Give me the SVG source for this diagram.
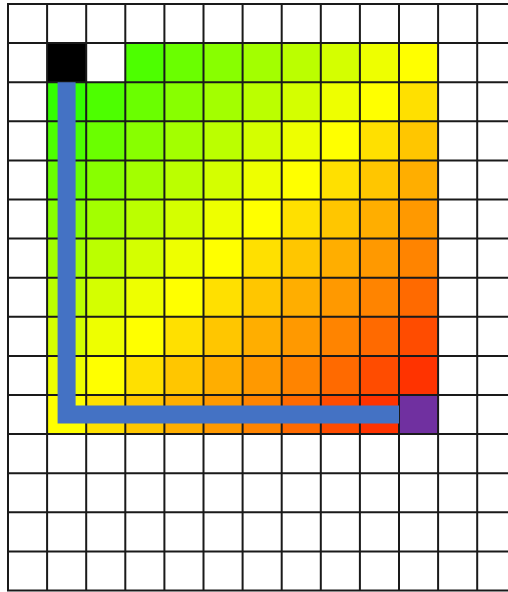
<svg xmlns="http://www.w3.org/2000/svg" width="508" height="592" viewBox="0 0 508 592">
<style>
.d1{fill:#33ff00}.d2{fill:#4dff00}.d3{fill:#6aff00}.d4{fill:#88ff00}.d5{fill:#a3ff00}.d6{fill:#bbff00}.d7{fill:#d4ff00}.d8{fill:#eeff00}.d9{fill:#ffff00}
.d10{fill:#ffe000}.d11{fill:#ffc600}.d12{fill:#ffae00}.d13{fill:#ff9900}.d14{fill:#ff8400}.d15{fill:#ff6a00}.d16{fill:#ff4c00}.d17{fill:#ff3300}
.start{fill:#000000}.goal{fill:#7030a0}
.grid{fill:none;stroke:#1a1a1a;stroke-width:2}
.route{fill:none;stroke:#4472c4;stroke-width:18;stroke-linejoin:miter;stroke-linecap:butt}
</style>
<rect width="508" height="592" fill="#ffffff"/>
<g id="cells" transform="translate(8,4) scale(39.1)">
<rect id="start" class="start" x="1" y="1" width="1" height="1"/>
<rect class="d2" x="3" y="1" width="1" height="1"/><rect class="d3" x="4" y="1" width="1" height="1"/><rect class="d4" x="5" y="1" width="1" height="1"/><rect class="d5" x="6" y="1" width="1" height="1"/><rect class="d6" x="7" y="1" width="1" height="1"/><rect class="d7" x="8" y="1" width="1" height="1"/><rect class="d8" x="9" y="1" width="1" height="1"/><rect class="d9" x="10" y="1" width="1" height="1"/>
<rect class="d1" x="1" y="2" width="1" height="1"/><rect class="d2" x="2" y="2" width="1" height="1"/><rect class="d3" x="3" y="2" width="1" height="1"/><rect class="d4" x="4" y="2" width="1" height="1"/><rect class="d5" x="5" y="2" width="1" height="1"/><rect class="d6" x="6" y="2" width="1" height="1"/><rect class="d7" x="7" y="2" width="1" height="1"/><rect class="d8" x="8" y="2" width="1" height="1"/><rect class="d9" x="9" y="2" width="1" height="1"/><rect class="d10" x="10" y="2" width="1" height="1"/>
<rect class="d2" x="1" y="3" width="1" height="1"/><rect class="d3" x="2" y="3" width="1" height="1"/><rect class="d4" x="3" y="3" width="1" height="1"/><rect class="d5" x="4" y="3" width="1" height="1"/><rect class="d6" x="5" y="3" width="1" height="1"/><rect class="d7" x="6" y="3" width="1" height="1"/><rect class="d8" x="7" y="3" width="1" height="1"/><rect class="d9" x="8" y="3" width="1" height="1"/><rect class="d10" x="9" y="3" width="1" height="1"/><rect class="d11" x="10" y="3" width="1" height="1"/>
<rect class="d3" x="1" y="4" width="1" height="1"/><rect class="d4" x="2" y="4" width="1" height="1"/><rect class="d5" x="3" y="4" width="1" height="1"/><rect class="d6" x="4" y="4" width="1" height="1"/><rect class="d7" x="5" y="4" width="1" height="1"/><rect class="d8" x="6" y="4" width="1" height="1"/><rect class="d9" x="7" y="4" width="1" height="1"/><rect class="d10" x="8" y="4" width="1" height="1"/><rect class="d11" x="9" y="4" width="1" height="1"/><rect class="d12" x="10" y="4" width="1" height="1"/>
<rect class="d4" x="1" y="5" width="1" height="1"/><rect class="d5" x="2" y="5" width="1" height="1"/><rect class="d6" x="3" y="5" width="1" height="1"/><rect class="d7" x="4" y="5" width="1" height="1"/><rect class="d8" x="5" y="5" width="1" height="1"/><rect class="d9" x="6" y="5" width="1" height="1"/><rect class="d10" x="7" y="5" width="1" height="1"/><rect class="d11" x="8" y="5" width="1" height="1"/><rect class="d12" x="9" y="5" width="1" height="1"/><rect class="d13" x="10" y="5" width="1" height="1"/>
<rect class="d5" x="1" y="6" width="1" height="1"/><rect class="d6" x="2" y="6" width="1" height="1"/><rect class="d7" x="3" y="6" width="1" height="1"/><rect class="d8" x="4" y="6" width="1" height="1"/><rect class="d9" x="5" y="6" width="1" height="1"/><rect class="d10" x="6" y="6" width="1" height="1"/><rect class="d11" x="7" y="6" width="1" height="1"/><rect class="d12" x="8" y="6" width="1" height="1"/><rect class="d13" x="9" y="6" width="1" height="1"/><rect class="d14" x="10" y="6" width="1" height="1"/>
<rect class="d6" x="1" y="7" width="1" height="1"/><rect class="d7" x="2" y="7" width="1" height="1"/><rect class="d8" x="3" y="7" width="1" height="1"/><rect class="d9" x="4" y="7" width="1" height="1"/><rect class="d10" x="5" y="7" width="1" height="1"/><rect class="d11" x="6" y="7" width="1" height="1"/><rect class="d12" x="7" y="7" width="1" height="1"/><rect class="d13" x="8" y="7" width="1" height="1"/><rect class="d14" x="9" y="7" width="1" height="1"/><rect class="d15" x="10" y="7" width="1" height="1"/>
<rect class="d7" x="1" y="8" width="1" height="1"/><rect class="d8" x="2" y="8" width="1" height="1"/><rect class="d9" x="3" y="8" width="1" height="1"/><rect class="d10" x="4" y="8" width="1" height="1"/><rect class="d11" x="5" y="8" width="1" height="1"/><rect class="d12" x="6" y="8" width="1" height="1"/><rect class="d13" x="7" y="8" width="1" height="1"/><rect class="d14" x="8" y="8" width="1" height="1"/><rect class="d15" x="9" y="8" width="1" height="1"/><rect class="d16" x="10" y="8" width="1" height="1"/>
<rect class="d8" x="1" y="9" width="1" height="1"/><rect class="d9" x="2" y="9" width="1" height="1"/><rect class="d10" x="3" y="9" width="1" height="1"/><rect class="d11" x="4" y="9" width="1" height="1"/><rect class="d12" x="5" y="9" width="1" height="1"/><rect class="d13" x="6" y="9" width="1" height="1"/><rect class="d14" x="7" y="9" width="1" height="1"/><rect class="d15" x="8" y="9" width="1" height="1"/><rect class="d16" x="9" y="9" width="1" height="1"/><rect class="d17" x="10" y="9" width="1" height="1"/>
<rect class="d9" x="1" y="10" width="1" height="1"/><rect class="d10" x="2" y="10" width="1" height="1"/><rect class="d11" x="3" y="10" width="1" height="1"/><rect class="d12" x="4" y="10" width="1" height="1"/><rect class="d13" x="5" y="10" width="1" height="1"/><rect class="d14" x="6" y="10" width="1" height="1"/><rect class="d15" x="7" y="10" width="1" height="1"/><rect class="d16" x="8" y="10" width="1" height="1"/><rect class="d17" x="9" y="10" width="1" height="1"/>
<rect id="goal" class="goal" x="10" y="10" width="1" height="1"/>
</g>
<g id="grid" class="grid">
<path d="M8,4V590.5M47.1,4V590.5M86.2,4V590.5M125.3,4V590.5M164.4,4V590.5M203.5,4V590.5M242.6,4V590.5M281.7,4V590.5M320.8,4V590.5M359.9,4V590.5M399,4V590.5M438.1,4V590.5M477.2,4V590.5"/>
<path d="M7,4H510M7,43.1H510M7,82.2H510M7,121.3H510M7,160.4H510M7,199.5H510M7,238.6H510M7,277.7H510M7,316.8H510M7,355.9H510M7,395H510M7,434.1H510M7,473.2H510M7,512.3H510M7,551.4H510M7,590.5H510"/>
</g>
<g id="connectors">
<path class="route" d="M66.6,82.2V414.5H399"/>
</g>
</svg>
